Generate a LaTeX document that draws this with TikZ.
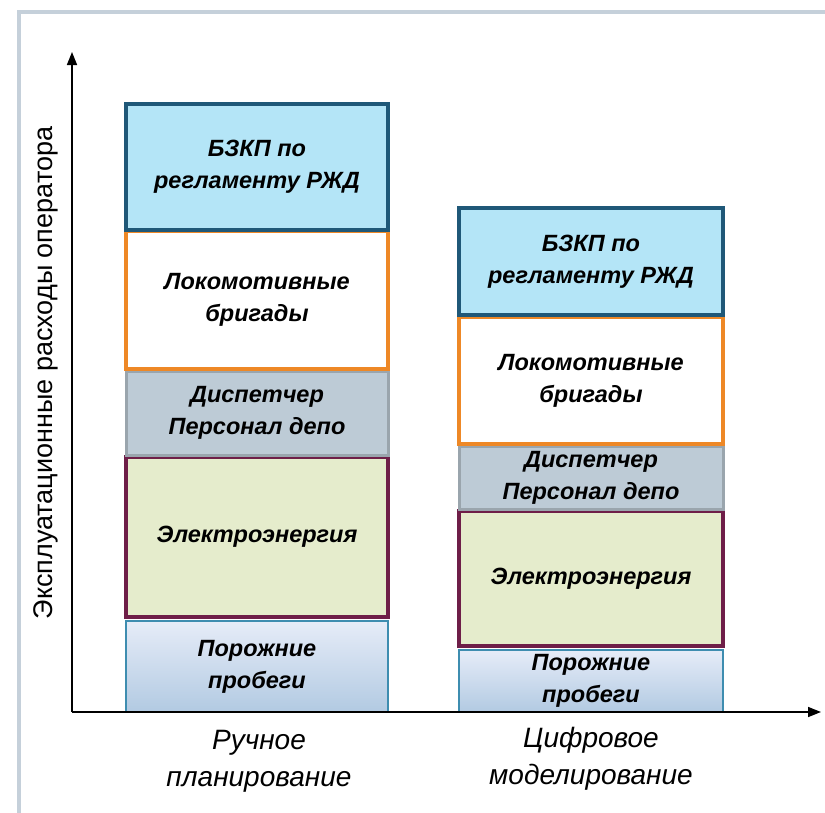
\documentclass[tikz,border=0pt]{standalone}
\usepackage{fontspec}
\setmainfont{Liberation Sans}
\usetikzlibrary{arrows.meta}
\definecolor{framecol}{RGB}{197,208,218}
\definecolor{bzkpfill}{RGB}{180,229,247}
\definecolor{bzkpline}{RGB}{31,88,120}
\definecolor{lokline}{RGB}{238,136,38}
\definecolor{dispfill}{RGB}{189,203,214}
\definecolor{displine}{RGB}{154,165,173}
\definecolor{elfill}{RGB}{229,236,204}
\definecolor{elline}{RGB}{110,30,72}
\definecolor{portop}{RGB}{230,236,248}
\definecolor{porbot}{RGB}{178,202,226}
\definecolor{porline}{RGB}{62,141,176}
\begin{document}
\begin{tikzpicture}[x=1pt,y=-1pt,
    bar/.style={rectangle, inner sep=0pt, align=center,
        font=\fontsize{23.5}{32}\selectfont\bfseries\itshape},
    bzkp/.style={bar, draw=bzkpline, fill=bzkpfill, line width=4pt},
    lok/.style={bar, draw=lokline, fill=white, line width=3.5pt},
    disp/.style={bar, draw=displine, fill=dispfill, line width=3pt},
    el/.style={bar, draw=elline, fill=elfill, line width=4pt},
    por/.style={bar, draw=porline, top color=portop, bottom color=porbot, line width=1.5pt},
    axlabel/.style={align=center, font=\fontsize{28}{37}\selectfont\itshape}]
    \useasboundingbox (0,0) rectangle (825,812);
    \fill[white] (0,0) rectangle (825,812);
    \draw[framecol, line width=4pt] (19,840) -- (19,12) -- (850,12);

    % left bar
    \node[por, minimum width=262pt, minimum height=91pt] (porL) at (257,666.5) {Порожние\\пробеги};
    \node[el, minimum width=262pt, minimum height=160pt] (elL) at (257,537) {Электроэнергия};
    \node[disp, minimum width=262pt, minimum height=84pt] (dispL) at (257,413) {Диспетчер\\Персонал депо};
    \node[lok, minimum width=262pt, minimum height=138pt] (lokL) at (257,300) {Локомотивные\\бригады};
    \node[bzkp, minimum width=262pt, minimum height=126pt] (bzkpL) at (257,167) {БЗКП по\\регламенту РЖД};

    % right bar
    \node[por, minimum width=264pt, minimum height=62pt] (porR) at (591,681) {Порожние\\пробеги};
    \node[el, minimum width=264pt, minimum height=135pt] (elR) at (591,578.5) {Электроэнергия};
    \node[disp, minimum width=264pt, minimum height=63pt] (dispR) at (591,477.5) {Диспетчер\\Персонал депо};
    \node[lok, minimum width=264pt, minimum height=127pt] (lokR) at (591,380.5) {Локомотивные\\бригады};
    \node[bzkp, minimum width=264pt, minimum height=107pt] (bzkpR) at (591,261.5) {БЗКП по\\регламенту РЖД};

    % axes
    \coordinate (O) at (72,712);
    \coordinate (ytop) at (72,52);
    \coordinate (xend) at (821,712);
    \draw[line width=1.6pt, -{Triangle[length=13pt,width=10pt]}] (O) -- (ytop);
    \draw[line width=1.6pt, -{Triangle[length=13pt,width=10pt]}] (O) -- (xend);

    \node[axlabel] (manual) at (259,761) {Ручное\\планирование};
    \node[axlabel] (digital) at (591,759) {Цифровое\\моделирование};
    \node[rotate=90, font=\fontsize{27}{30}\selectfont] (ylab) at (46,373) {Эксплуатационные расходы оператора};
\end{tikzpicture}
\end{document}
